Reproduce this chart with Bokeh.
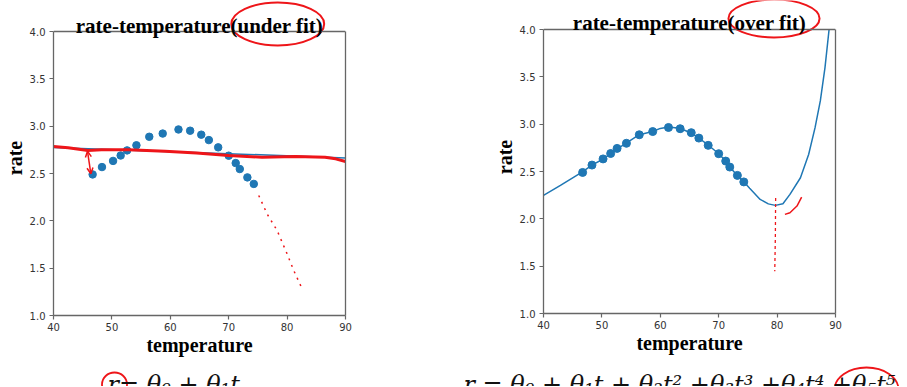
from bokeh.plotting import figure
from bokeh.layouts import row, column
from bokeh.models import (Range1d, Label, Arrow, OpenHead, FixedTicker,
                          PrintfTickFormatter, Span, LinearAxis)
from bokeh.embed import file_html
from bokeh.resources import INLINE

# ---------------- data ----------------
temperature = [46.7, 48.3, 50.2, 51.5, 52.6, 54.2, 56.4, 58.7, 61.4,
               63.4, 65.3, 66.6, 68.2, 70.0, 71.2, 71.9, 73.2, 74.3]
rate = [2.490, 2.568, 2.633, 2.690, 2.744, 2.798, 2.888, 2.922, 2.965,
        2.952, 2.910, 2.853, 2.776, 2.688, 2.610, 2.547, 2.459, 2.390]

# linear (under fit) line
fit_t = [40, 90]
fit_r = [2.775, 2.665]

# 5th-degree (over fit) curve
curve_t = [40.0, 42.9, 46.6, 48.3, 50.3, 51.5, 52.7, 54.3, 56.4, 58.7, 60.0,
           61.4, 63.3, 65.2, 66.5, 68.2, 70.0, 71.2, 71.9, 73.1, 74.3, 75.3,
           77.1, 78.5, 79.7, 81.0, 82.2, 84.0, 85.4, 86.5, 87.4, 88.2, 88.9]
curve_r = [2.248, 2.353, 2.494, 2.568, 2.635, 2.688, 2.741, 2.804, 2.889, 2.922, 2.955,
           2.970, 2.957, 2.910, 2.857, 2.780, 2.688, 2.610, 2.547, 2.462, 2.392, 2.322,
           2.205, 2.158, 2.142, 2.160, 2.258, 2.434, 2.680, 2.963, 3.245, 3.598, 4.000]

x_ticks = [40, 50, 60, 70, 80, 90]
y_ticks = [1.0, 1.5, 2.0, 2.5, 3.0, 3.5, 4.0]
y_bounds = (1.0, 4.0)

titles = ["rate-temperature(under fit)", "rate-temperature(over fit)"]
x_label = "temperature"
y_label = "rate"
formulas = ["r= θ₀ + θ₁t", "r = θ₀ + θ₁t + θ₂t² +θ₃t³ +θ₄t⁴ +θ₅t⁵"]

# ---------------- hand-drawn red marks ----------------
pen_line_t = [40, 42.5, 45.9, 48.2, 52.8, 59.1, 64.5, 70.0, 75.7, 81.4, 86.5, 88.3, 90.0]
pen_line_r = [2.785, 2.771, 2.743, 2.750, 2.750, 2.736, 2.717, 2.690, 2.672, 2.680, 2.672, 2.655, 2.627]
pen_arrow = [45.82, 2.736, 46.40, 2.497]
pen_drop_t = [75.14, 76.57, 78.29, 80.00, 81.14, 82.57]
pen_drop_r = [2.268, 2.074, 1.898, 1.651, 1.475, 1.282]
pen_vert_t = [79.75, 79.70, 79.60]
pen_vert_r = [2.22, 1.80, 1.447]
pen_arc_t = [81.34, 82.2, 83.4, 84.2]
pen_arc_r = [2.047, 2.065, 2.135, 2.230]
# title rings (centre x, centre y, width, height) in each chart's data units
ring_left = ([78.4], [4.079], [15.9], [0.454])
ring_right = ([79.47], [4.116], [15.6], [0.40])
# formula rings in the caption strip (pixel units)
ring_caption = ([114, 866], [384, 389], [25, 64], [24, 44])

BLUE = "#1f77b4"
RED = "#ee1519"
AXIS = "#666666"


def make_fig(bl, br, fh, bb, ytop):
    p = figure(frame_width=292, frame_height=fh,
               x_range=Range1d(40, 90), y_range=Range1d(1, ytop),
               output_backend="svg", toolbar_location=None, title=None,
               min_border_left=bl, min_border_right=br,
               min_border_top=0, min_border_bottom=bb,
               background_fill_color="white", border_fill_color="white")
    p.grid.visible = False
    p.outline_line_color = None
    for ax in (p.xaxis[0], p.yaxis[0]):
        ax.axis_line_color = AXIS
        ax.axis_line_width = 1.3
        ax.major_tick_line_color = AXIS
        ax.major_tick_line_width = 1.2
        ax.major_tick_out = 4
        ax.major_tick_in = 0
        ax.minor_tick_line_color = None
        ax.major_label_text_font = "DejaVu Sans"
        ax.major_label_text_font_size = "10px"
        ax.major_label_text_color = "#333333"
        ax.axis_label_text_font = "Liberation Serif"
        ax.axis_label_text_font_style = "bold"
        ax.axis_label_text_font_size = "20px"
        ax.axis_label_text_color = "black"
    p.xaxis.ticker = FixedTicker(ticks=x_ticks)
    p.xaxis.major_label_standoff = 3
    p.xaxis.axis_label = x_label
    p.xaxis.axis_label_standoff = 0
    p.yaxis.ticker = FixedTicker(ticks=y_ticks)
    p.yaxis.formatter = PrintfTickFormatter(format="%.1f")
    p.yaxis.bounds = y_bounds
    p.yaxis.major_label_standoff = 4
    p.yaxis.axis_label = y_label
    p.yaxis.axis_label_standoff = 1
    # right and top spines of the box
    p.add_layout(LinearAxis(bounds=y_bounds, ticker=FixedTicker(ticks=[]),
                            major_label_text_font_size="0px",
                            major_tick_line_color=None, minor_tick_line_color=None,
                            axis_line_color=AXIS, axis_line_width=1.3), "right")
    p.add_layout(Span(location=y_bounds[1], dimension="width",
                      line_color=AXIS, line_width=1.3))
    return p


def add_title(p, text, y):
    p.add_layout(Label(x=65, y=y, text=text, text_align="center",
                       text_baseline="alphabetic", text_font="Liberation Serif",
                       text_font_style="bold", text_font_size="21px",
                       text_color="black"))


# ---------------- left: under fit ----------------
p1 = make_fig(53, 100, 315, 45, 1 + 3 * 315 / 284)
p1.line(fit_t, fit_r, line_color=BLUE, line_width=1.5)
p1.scatter(temperature, rate, size=7.5, fill_color=BLUE, line_color=BLUE)
p1.line(pen_line_t, pen_line_r, line_color=RED, line_width=3)
p1.add_layout(Arrow(x_start=pen_arrow[0], y_start=pen_arrow[1],
                    x_end=pen_arrow[2], y_end=pen_arrow[3],
                    line_color=RED, line_width=1.5,
                    start=OpenHead(size=6, line_color=RED, line_width=1.5),
                    end=OpenHead(size=6, line_color=RED, line_width=1.5)))
p1.line(pen_drop_t, pen_drop_r, line_color=RED, line_width=1.5, line_dash="2 5")
add_title(p1, titles[0], 4.063)
p1.ellipse(x=ring_left[0], y=ring_left[1], width=ring_left[2], height=ring_left[3],
           fill_color=None, line_color=RED, line_width=2)

# ---------------- right: over fit ----------------
p2 = make_fig(98, 70, 313, 47, 1 + 3 * 313 / 284)
p2.line(curve_t, curve_r, line_color=BLUE, line_width=1.5)
p2.scatter(temperature, rate, size=8, fill_color=BLUE, line_color=BLUE)
p2.line(pen_vert_t, pen_vert_r, line_color=RED, line_width=1.3, line_dash="3 3")
p2.line(pen_arc_t, pen_arc_r, line_color=RED, line_width=1.5)
add_title(p2, titles[1], 4.066)
p2.ellipse(x=ring_right[0], y=ring_right[1], width=ring_right[2], height=ring_right[3],
           fill_color=None, line_color=RED, line_width=2)

# ---------------- caption strip with the formulas ----------------
p3 = figure(width=905, height=26, x_range=Range1d(0, 905), y_range=Range1d(386, 360),
            output_backend="svg", toolbar_location=None, title=None,
            x_axis_type=None, y_axis_type=None,
            min_border_left=0, min_border_right=0, min_border_top=0, min_border_bottom=0,
            background_fill_color="white", border_fill_color="white")
p3.grid.visible = False
p3.outline_line_color = None
for fx, ftxt in zip([107, 463], formulas):
    p3.add_layout(Label(x=fx, y=384, text=ftxt, text_align="left",
                        text_baseline="alphabetic", text_font="DejaVu Serif",
                        text_font_style="italic", text_font_size="24px",
                        text_color="#111111"))
p3.ellipse(x=ring_caption[0], y=ring_caption[1], width=ring_caption[2],
           height=ring_caption[3], fill_color=None, line_color=RED, line_width=1.8)

layout = column(row(p1, p2), p3)
open("out.html", "w").write(file_html(layout, INLINE))
